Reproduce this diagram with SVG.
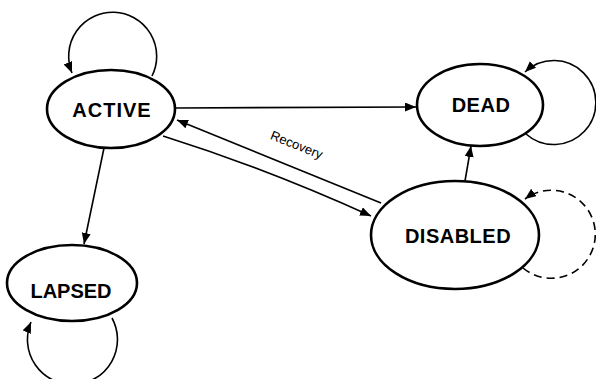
<svg xmlns="http://www.w3.org/2000/svg" width="596" height="379" viewBox="0 0 596 379">
<style>
.node{fill:#fff;stroke:#000;stroke-width:2.6}
.lbl{font-family:"Liberation Sans",Arial,sans-serif;font-weight:bold;font-size:20px;text-anchor:middle;fill:#000}
.edge{fill:none;stroke:#000;stroke-width:1.6}
.dash{stroke-dasharray:8 5}
.elbl{font-family:"Liberation Sans",Arial,sans-serif;font-size:13px;text-anchor:middle;fill:#000}
</style>
<defs>
<marker id="arr" markerUnits="userSpaceOnUse" markerWidth="12" markerHeight="10" refX="11" refY="4.5" orient="auto">
<path d="M0,0 L11,4.5 L0,9 z" fill="#000"/>
</marker>
</defs>
<rect width="596" height="379" fill="#fff"/>
<g id="connectors">
<path class="edge" d="M152,76 A44,44 0 1 0 72,73" marker-end="url(#arr)"/>
<path class="edge" d="M175,108 L416,107" marker-end="url(#arr)"/>
<path class="edge" d="M526,134 A42,42 0 1 0 525,72" marker-end="url(#arr)"/>
<path class="edge" d="M381,203 L177,120" marker-end="url(#arr)"/>
<path class="edge" d="M163,136 Q265,168 371,216" marker-end="url(#arr)"/>
<path class="edge" d="M465,181 L471,146" marker-end="url(#arr)"/>
<path class="edge dash" d="M523,268 A44,44 0 1 0 525,199" marker-end="url(#arr)"/>
<path class="edge" d="M104,148 L84,244" marker-end="url(#arr)"/>
<path class="edge" d="M112,318 A45,45 0 1 1 31,322" marker-end="url(#arr)"/>
<text class="elbl" x="295" y="149" transform="rotate(22 295 149)">Recovery</text>
</g>
<g id="active">
<ellipse class="node" cx="111" cy="109" rx="64" ry="39"/>
<text class="lbl" x="112" y="117" letter-spacing="1">ACTIVE</text>
</g>
<g id="dead">
<ellipse class="node" cx="480" cy="105" rx="63" ry="41"/>
<text class="lbl" x="481" y="112" letter-spacing="0.5">DEAD</text>
</g>
<g id="disabled">
<ellipse class="node" cx="455" cy="235" rx="84" ry="54"/>
<text class="lbl" x="458" y="243" letter-spacing="0.5">DISABLED</text>
</g>
<g id="lapsed">
<ellipse class="node" cx="72" cy="283" rx="65" ry="38"/>
<text class="lbl" x="71" y="298">LAPSED</text>
</g>
</svg>
